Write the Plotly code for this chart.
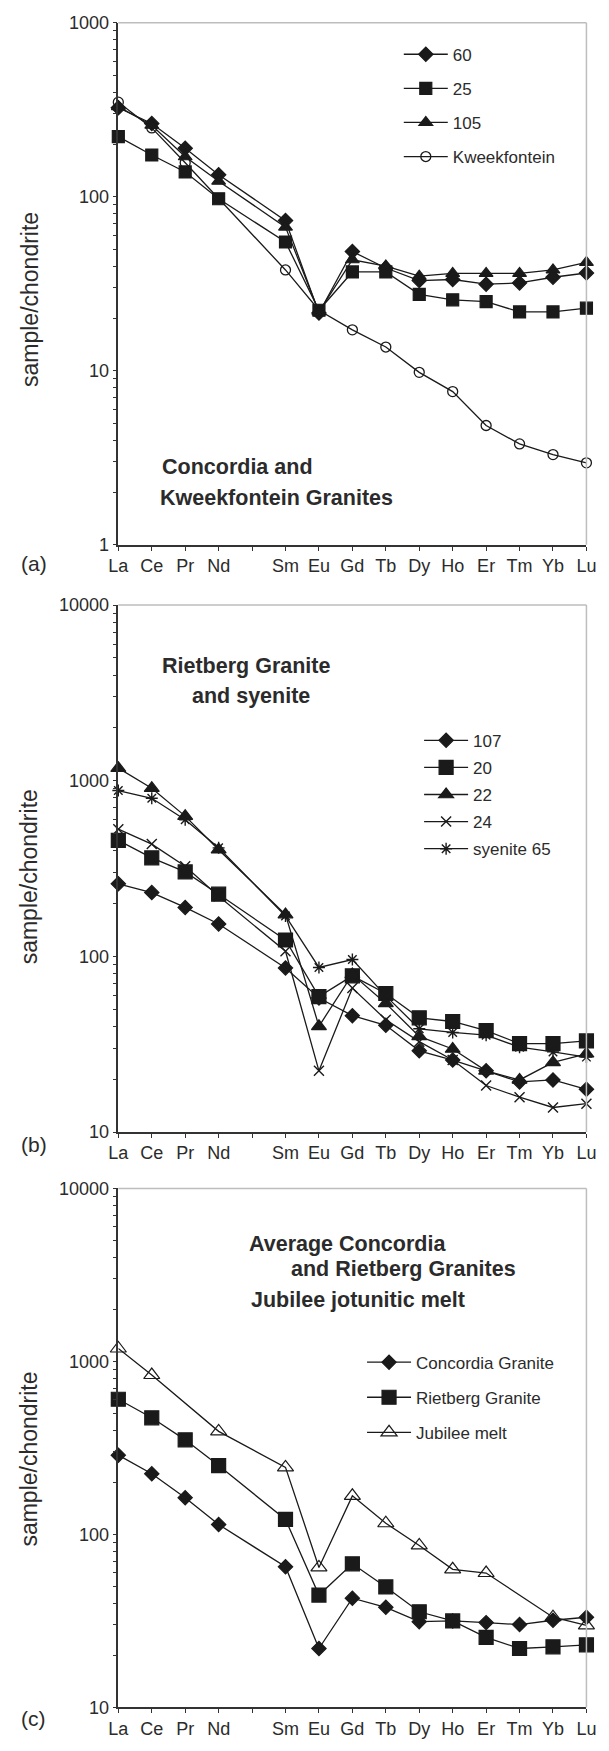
import plotly.graph_objects as go

W, H = 609, 1751

# ---------------- data ----------------
ree_axis = ["La", "Ce", "Pr", "Nd", "Pm", "Sm", "Eu", "Gd", "Tb", "Dy", "Ho", "Er", "Tm", "Yb", "Lu"]
ree_labels = ["La", "Ce", "Pr", "Nd", "", "Sm", "Eu", "Gd", "Tb", "Dy", "Ho", "Er", "Tm", "Yb", "Lu"]
ree = ["La", "Ce", "Pr", "Nd", "Sm", "Eu", "Gd", "Tb", "Dy", "Ho", "Er", "Tm", "Yb", "Lu"]

# panel (a)
a_60 = [325, 264, 190, 134, 73, 21.5, 48.5, 39, 33, 33.5, 31.5, 32, 34.5, 36.5]
a_25 = [222, 174, 139, 97.5, 55, 22.3, 37, 37, 27.5, 25.6, 25, 21.8, 21.8, 22.9]
a_105 = [330, 258, 170, 123, 67, 21.8, 43.5, 40, 35, 36.3, 36.3, 36.3, 38, 42]
a_kweek = [350, 249, 157, 97.5, 38, 22.3, 17.2, 13.7, 9.8, 7.6, 4.85, 3.8, 3.3, 2.96]

# panel (b)
b_107 = [259, 231, 190, 153, 86, 58, 46, 40.5, 29, 25.7, 22.3, 19.3, 19.8, 17.5]
b_20 = [458, 364, 303, 226, 124, 59, 77.5, 61.5, 44.7, 42.6, 37.8, 31.9, 31.9, 33]
b_22 = [1180, 907, 629, 405, 173, 40, 79, 54, 35, 29.7, 22.3, 19.8, 24.9, 27.9]
b_24 = [530, 436, 326, 220, 107, 22.3, 66, 43.6, 32.7, 25.7, 18.4, 15.8, 13.8, 14.5]
b_65 = [880, 795, 600, 415, 170, 86.5, 96, 59.6, 38.7, 36.9, 35.6, 30.4, 28.6, 26.7]

# panel (c)
c_conc = [287, 224, 163, 114, 65, 21.9, 42.8, 37.9, 31.3, 31.6, 30.9, 30.1, 31.9, 33.2]
c_riet = [604, 472, 352, 250, 122, 44.6, 67.6, 49.7, 35.7, 31.6, 25.4, 21.9, 22.4, 23]
c_jub = [1187, 834, None, 394, 244, 64.4, 167, 116, 86.3, 62.8, 59.8, None, 33.2, 29.8]

# ---------------- style ----------------
FONT = "Arial, Liberation Sans, sans-serif"
TXT = "#2b2b2b"
LINE = "#1a1a1a"


def px_x(p):
    return p / W


def px_y(p):
    return 1 - p / H


X0, X1 = 112, 596
panels = [
    dict(top=13, bot=541, rng=[0, 3], major=[1, 10, 100, 1000]),
    dict(top=602, bot=1135, rng=[1, 4], major=[10, 100, 1000, 10000]),
    dict(top=1192, bot=1717, rng=[1, 4], major=[10, 100, 1000, 10000]),
]

fig = go.Figure()


def add(series, name, panel, symbol, size, legend, open_=False, lw_marker=1.2):
    sfx = "" if panel == 1 else str(panel)
    marker = dict(symbol=symbol, size=size, color=("white" if open_ else LINE),
                  line=dict(color=LINE, width=lw_marker))
    if symbol.startswith("x-thin") or symbol.startswith("asterisk"):
        marker = dict(symbol=symbol, size=size, color=LINE, line=dict(color=LINE, width=1.4))
    fig.add_trace(go.Scatter(
        x=ree, y=series, name=name, mode="lines+markers",
        line=dict(color=LINE, width=1.3), marker=marker,
        xaxis="x" + sfx, yaxis="y" + sfx, cliponaxis=False, connectgaps=True,
        legend=legend, legendgroup=legend + name, showlegend=True,
    ))


add(a_60, "60", 1, "diamond", 11, "legend")
add(a_25, "25", 1, "square", 12, "legend")
add(a_105, "105", 1, "triangle-up", 12, "legend")
add(a_kweek, "Kweekfontein", 1, "circle-open", 10, "legend", lw_marker=1.3)

add(b_107, "107", 2, "diamond", 11, "legend2")
add(b_20, "20", 2, "square", 14, "legend2")
add(b_22, "22", 2, "triangle-up", 13, "legend2")
add(b_24, "24", 2, "x-thin-open", 10, "legend2")
add(b_65, "syenite 65", 2, "asterisk-open", 10, "legend2")

add(c_conc, "Concordia Granite", 3, "diamond", 11, "legend3")
add(c_riet, "Rietberg Granite", 3, "square", 14, "legend3")
add(c_jub, "Jubilee melt", 3, "triangle-up-open", 14, "legend3", lw_marker=1.2)

layout = dict(
    width=W, height=H, margin=dict(l=0, r=0, t=0, b=0),
    paper_bgcolor="white", plot_bgcolor="white",
    font=dict(family=FONT, color=TXT),
    showlegend=True,
)

minor_vals = [m * 10 ** e for e in range(0, 4) for m in range(2, 10)]

shapes = []
annotations = []
for i, p in enumerate(panels):
    sfx = "" if i == 0 else str(i + 1)
    layout["xaxis" + sfx] = dict(
        type="category", categoryorder="array", categoryarray=ree_axis,
        tickmode="array", tickvals=ree_axis, ticktext=ree_labels,
        range=[0, 14], domain=[px_x(X0), px_x(X1)], anchor="y" + sfx,
        showline=True, linecolor="#333", linewidth=1.5,
        ticks="outside", ticklen=4, tickwidth=1.3, tickcolor="#333",
        tickfont=dict(size=18, family=FONT, color=TXT),
        showgrid=False, zeroline=False, fixedrange=True,
    )
    layout["yaxis" + sfx] = dict(
        type="log", range=p["rng"], domain=[px_y(p["bot"]), px_y(p["top"])],
        anchor="x" + sfx,
        tickmode="array", tickvals=p["major"], ticktext=[str(v) for v in p["major"]],
        showline=True, linecolor="#333", linewidth=1.5,
        ticks="outside", ticklen=4, tickwidth=1.3, tickcolor="#333",
        tickfont=dict(size=18, family=FONT, color=TXT),
        minor=dict(tickmode="array", tickvals=minor_vals, ticks="outside",
                   ticklen=4, tickwidth=1.1, tickcolor="#333", showgrid=False),
        showgrid=False, zeroline=False, fixedrange=True,
    )
    # light grey frame (top and right)
    shapes.append(dict(type="line", xref="x" + sfx + " domain", yref="y" + sfx + " domain",
                       x0=0, x1=1, y0=1, y1=1, line=dict(color="#bdbdbd", width=1.5)))
    shapes.append(dict(type="line", xref="x" + sfx + " domain", yref="y" + sfx + " domain",
                       x0=1, x1=1, y0=0, y1=1, line=dict(color="#bdbdbd", width=1.5)))

layout["shapes"] = shapes

# y-axis titles
for yc in [293, 877, 1466]:
    annotations.append(dict(text="sample/chondrite", x=px_x(20), y=px_y(yc), xref="paper", yref="paper",
                            textangle=-90, showarrow=False, font=dict(size=23, family=FONT, color=TXT),
                            xanchor="center", yanchor="middle"))
# panel labels
for lab, yc in [("(a)", 560), ("(b)", 1148), ("(c)", 1728)]:
    annotations.append(dict(text=lab, x=px_x(9), y=px_y(yc), xref="paper", yref="paper",
                            showarrow=False, font=dict(size=21, family=FONT, color=TXT),
                            xanchor="left", yanchor="middle"))

# bold panel captions
captions = [
    ("Concordia and", 155, 462),
    ("Kweekfontein Granites", 153, 494),
    ("Rietberg Granite", 155, 664),
    ("and syenite", 186, 694),
    ("Average Concordia", 245, 1248),
    ("and Rietberg Granites", 288, 1274),
    ("Jubilee jotunitic melt", 247, 1305),
]
for t, x, y in captions:
    annotations.append(dict(text="<b>" + t + "</b>", x=px_x(x), y=px_y(y), xref="paper", yref="paper",
                            showarrow=False, font=dict(size=21.5, family=FONT, color=TXT),
                            xanchor="left", yanchor="middle"))
layout["annotations"] = annotations

leg_common = dict(xanchor="left", yanchor="top", bgcolor="rgba(0,0,0,0)", borderwidth=0,
                  font=dict(size=17, family=FONT, color=TXT), traceorder="grouped",
                  itemwidth=44)
layout["legend"] = dict(leg_common, x=px_x(402), y=px_y(27), tracegroupgap=9)
layout["legend2"] = dict(leg_common, x=px_x(423), y=px_y(721), tracegroupgap=2)
layout["legend3"] = dict(leg_common, x=px_x(364), y=px_y(1350), tracegroupgap=10)

fig.update_layout(**layout)
fig.write_html("out.html")
